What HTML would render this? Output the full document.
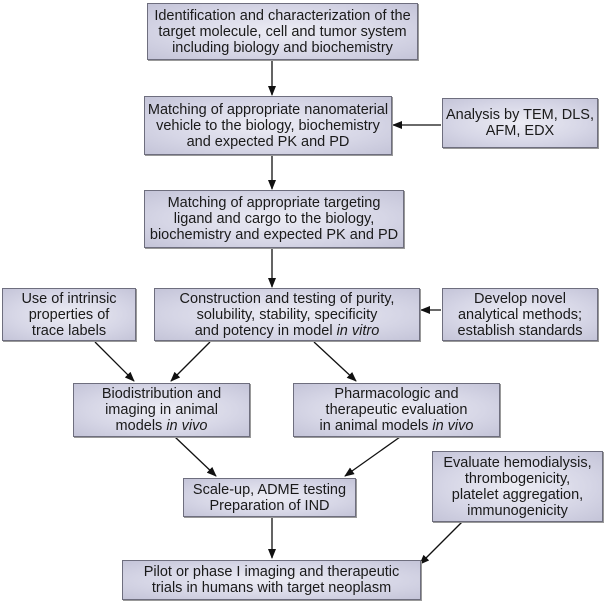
<!DOCTYPE html>
<html><head><style>
body{margin:0;width:606px;height:606px;background:#fff;position:relative;overflow:hidden;font-family:"Liberation Sans",sans-serif;}
.b{position:absolute;box-sizing:border-box;border:1px solid #6e6e7e;background:radial-gradient(ellipse at center,#ececf4 0%,#d6d6e6 60%,#c4c4d8 100%);display:flex;align-items:center;justify-content:center;text-align:center;font-size:14.5px;line-height:16px;color:#1a1a1a;box-shadow:1px 1px 0 #999;white-space:nowrap;}
svg{position:absolute;left:0;top:0;}
</style></head><body>
<svg width="606" height="606"><defs><marker id="a" markerWidth="10" markerHeight="8" refX="9" refY="4" orient="auto" markerUnits="userSpaceOnUse"><path d="M0,0 L10,4 L0,8 z" fill="#111"/></marker></defs>
<g stroke="#111" stroke-width="1.3" marker-end="url(#a)">
<line x1="272" y1="60" x2="272" y2="95"/>
<line x1="441" y1="125" x2="393" y2="125"/>
<line x1="272" y1="155" x2="272" y2="189"/>
<line x1="272" y1="248" x2="272" y2="287"/>
<line x1="441" y1="310" x2="421" y2="310"/>
<line x1="95" y1="342" x2="134" y2="381"/>
<line x1="210" y1="342" x2="171" y2="381"/>
<line x1="314" y1="342" x2="356" y2="381"/>
<line x1="175" y1="437" x2="216" y2="476"/>
<line x1="400" y1="437" x2="345" y2="476"/>
<line x1="272" y1="517" x2="272" y2="558"/>
<line x1="462" y1="522" x2="420" y2="564"/>
</g></svg>
<div class="b" style="left:147px;top:3px;width:271px;height:57px"><div>Identification and characterization of the<br>target molecule, cell and tumor system<br>including biology and biochemistry</div></div>
<div class="b" style="left:144px;top:96px;width:248px;height:59px"><div>Matching of appropriate nanomaterial<br>vehicle to the biology, biochemistry<br>and expected PK and PD</div></div>
<div class="b" style="left:442px;top:98px;width:156px;height:50px"><div>Analysis by TEM, DLS,<br>AFM, EDX</div></div>
<div class="b" style="left:144px;top:190px;width:260px;height:58px"><div>Matching of appropriate targeting<br>ligand and cargo to the biology,<br>biochemistry and expected PK and PD</div></div>
<div class="b" style="left:2px;top:288px;width:134px;height:53px"><div>Use of intrinsic<br>properties of<br>trace labels</div></div>
<div class="b" style="left:154px;top:288px;width:266px;height:53px"><div>Construction and testing of purity,<br>solubility, stability, specificity<br>and potency in model <i>in vitro</i></div></div>
<div class="b" style="left:442px;top:288px;width:156px;height:53px"><div>Develop novel<br>analytical methods;<br>establish standards</div></div>
<div class="b" style="left:73px;top:383px;width:177px;height:54px"><div>Biodistribution and<br>imaging in animal<br>models <i>in vivo</i></div></div>
<div class="b" style="left:293px;top:383px;width:207px;height:54px"><div>Pharmacologic and<br>therapeutic evaluation<br>in animal models <i>in vivo</i></div></div>
<div class="b" style="left:183px;top:478px;width:173px;height:39px"><div>Scale-up, ADME testing<br>Preparation of IND</div></div>
<div class="b" style="left:432px;top:451px;width:171px;height:71px"><div>Evaluate hemodialysis,<br>thrombogenicity,<br>platelet aggregation,<br>immunogenicity</div></div>
<div class="b" style="left:122px;top:560px;width:299px;height:40px"><div>Pilot or phase I imaging and therapeutic<br>trials in humans with target neoplasm</div></div>
</body></html>
